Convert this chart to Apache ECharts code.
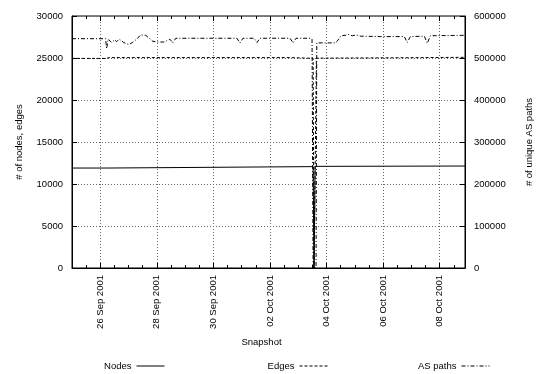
<!DOCTYPE html>
<html><head><meta charset="utf-8">
<script src="https://cdn.jsdelivr.net/npm/echarts@6/dist/echarts.min.js"></script>
<style>html,body{margin:0;padding:0;background:#fff}#c{width:538px;height:374px}</style>
</head><body><div id="c"></div><script>
// Time is given as hours since 25 Sep 2001 00:00 UTC
const START = Date.UTC(2001, 8, 25, 0, 0);
const HOUR = 3600000;
const axisMaxHours = 333.5;
const majorTickHours = [24, 72, 120, 168, 216, 264, 312];

const nodeHours  = [0, 29.8, 31.1, 204.6, 205.4, 206.3, 333.5];
const nodeValues = [11900, 11900, 12050, 12070, 0, 12100, 12140];

const edgeHours  = [0, 29.4, 31.1, 185.0, 204.6, 205.4, 206.5, 207.4, 280.0, 333.5];
const edgeValues = [24950, 24950, 25050, 25050, 24960, 0, 0, 24980, 25030, 25080];

const asHours = [0, 28.5, 29.4, 30.7, 33.6, 36.2, 37.9, 40.0, 43.8, 48.1,
  51.5, 54.9, 58.3, 62.6, 65.1, 68.5, 72.8, 77.9, 80.4, 83.0,
  85.5, 88.1, 139.9, 142.5, 145.1, 154.4, 157.0, 159.5, 185.0, 187.6,
  190.1, 202.0, 203.7, 204.6, 207.1, 207.7, 223.3, 225.0, 228.4, 231.8,
  234.4, 237.8, 241.2, 244.6, 261.6, 282.0, 284.5, 287.1, 299.0, 301.5,
  304.1, 333.5];
const asValues = [546000, 546000, 522000, 545000, 537000, 543000, 539000, 545000, 537000, 532000,
  537000, 545000, 555000, 554000, 548000, 540000, 538000, 538000, 541000, 545000,
  536000, 547000, 547000, 536000, 547000, 547000, 537000, 547000, 547000, 536000,
  547000, 547000, 545000, 0, 0, 536000, 536000, 540000, 553000, 554000,
  556000, 553000, 555000, 552000, 551000, 551000, 537000, 551000, 552000, 535000,
  553000, 554000];

const MONTHS = ['Jan','Feb','Mar','Apr','May','Jun','Jul','Aug','Sep','Oct','Nov','Dec'];
function fmtDate(v) {
  const d = new Date(v);
  return String(d.getUTCDate()).padStart(2, '0') + ' ' + MONTHS[d.getUTCMonth()] + ' ' + d.getUTCFullYear();
}
const toMs = h => START + h * HOUR;
const majorTicks = majorTickHours.map(toMs);
const minorTicks = [];
for (let h = 12; h < axisMaxHours; h += 12) minorTicks.push(toMs(h));
const pairs = (hs, vs) => hs.map((h, i) => [toMs(h), vs[i]]);

const FONT = 'Liberation Sans';
const FS = 9.5;
const xMin = START, xMax = toMs(axisMaxHours);
const tickAxis = (pos, vals, len) => ({
  type: 'value', min: xMin, max: xMax, position: pos, gridIndex: 0,
  axisLine: { show: false },
  axisTick: { show: true, inside: true, length: len, lineStyle: { color: '#000' }, customValues: vals },
  axisLabel: { show: false },
  splitLine: { show: false }
});

const chart = echarts.init(document.getElementById('c'));
chart.setOption({
  animation: false,
  textStyle: { fontFamily: FONT, color: '#000' },
  grid: { left: 72, right: 73, top: 16, bottom: 106, outerBoundsMode: 'none', containLabel: false,
    show: true, borderColor: '#000', borderWidth: 1, backgroundColor: 'transparent' },
  xAxis: [
    {
      type: 'value', min: xMin, max: xMax, position: 'bottom',
      axisLine: { show: true, lineStyle: { color: '#000' } },
      axisTick: { show: true, inside: true, length: 5, lineStyle: { color: '#000' }, customValues: majorTicks },
      axisLabel: { customValues: majorTicks, rotate: 90, formatter: fmtDate, fontSize: FS, color: '#000', fontFamily: FONT, margin: 7 },
      splitLine: { show: true, lineStyle: { color: '#666', type: [1, 2], width: 1 } },
      name: 'Snapshot', nameLocation: 'middle', nameGap: 69,
      nameTextStyle: { fontSize: FS, color: '#000', fontFamily: FONT, padding: [0, 14, 0, 0] }
    },
    tickAxis('bottom', minorTicks, 3),
    tickAxis('top', majorTicks, 5),
    tickAxis('top', minorTicks, 3)
  ],
  yAxis: [
    {
      type: 'value', min: 0, max: 30000, interval: 5000, position: 'left',
      axisLine: { show: true, lineStyle: { color: '#000' } },
      axisTick: { show: true, inside: true, length: 5, lineStyle: { color: '#000' } },
      axisLabel: { formatter: v => String(v), fontSize: FS, color: '#000', fontFamily: FONT, margin: 9 },
      splitLine: { show: true, lineStyle: { color: '#666', type: [1, 2], width: 1 } },
      name: '# of nodes, edges', nameLocation: 'middle', nameRotate: 90, nameGap: 48,
      nameTextStyle: { fontSize: FS, color: '#000', fontFamily: FONT }
    },
    {
      type: 'value', min: 0, max: 600000, interval: 100000, position: 'right',
      axisLine: { show: true, lineStyle: { color: '#000' } },
      axisTick: { show: true, inside: true, length: 5, lineStyle: { color: '#000' } },
      axisLabel: { formatter: v => String(v), fontSize: FS, color: '#000', fontFamily: FONT, margin: 9 },
      splitLine: { show: false },
      name: '# of unique AS paths', nameLocation: 'middle', nameRotate: 90, nameGap: 59,
      nameTextStyle: { fontSize: FS, color: '#000', fontFamily: FONT }
    }
  ],
  legend: [
    { data: ['Nodes'], right: 373, top: 361 },
    { data: ['Edges'], right: 210, top: 361 },
    { data: ['AS paths'], right: 48, top: 361 }
  ].map(l => Object.assign(l, {
    align: 'right', itemWidth: 28, itemHeight: 11, itemGap: 0, padding: 0,
    itemStyle: { opacity: 0 },
    lineStyle: { width: 1 },
    textStyle: { fontSize: FS, color: '#000', fontFamily: FONT }
  })),
  series: [
    { type: 'line', name: 'Nodes', xAxisIndex: 0, yAxisIndex: 0, data: pairs(nodeHours, nodeValues),
      symbol: 'none', itemStyle: { color: '#000' }, lineStyle: { color: '#000', width: 1, type: 'solid' } },
    { type: 'line', name: 'Edges', xAxisIndex: 0, yAxisIndex: 0, data: pairs(edgeHours, edgeValues),
      symbol: 'none', itemStyle: { color: '#000' }, lineStyle: { color: '#000', width: 1, type: [3, 2] } },
    { type: 'line', name: 'AS paths', xAxisIndex: 0, yAxisIndex: 1, data: pairs(asHours, asValues),
      symbol: 'none', itemStyle: { color: '#000' }, lineStyle: { color: '#000', width: 1, type: [4, 2, 1, 2] } }
  ]
});
</script></body></html>
